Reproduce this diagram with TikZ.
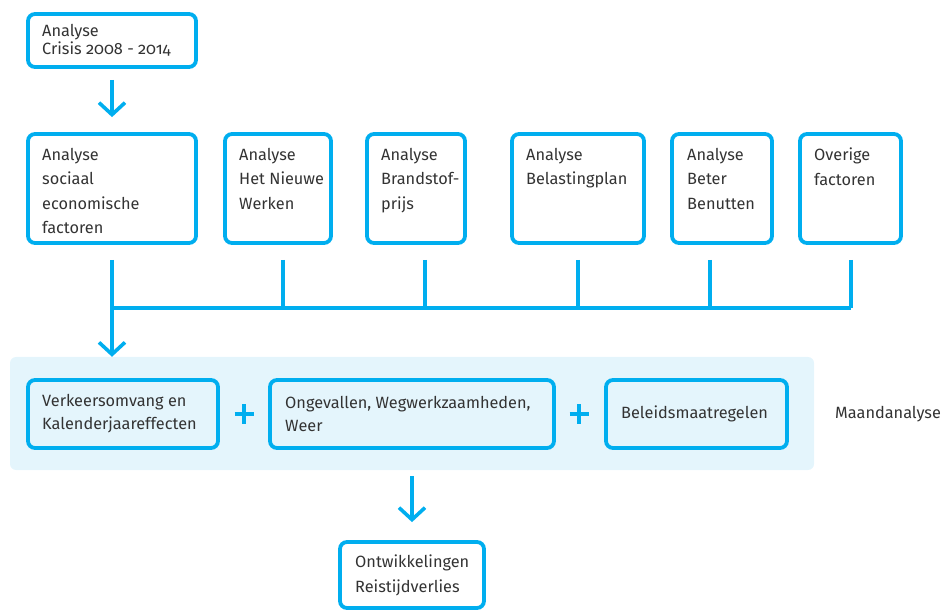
\documentclass[tikz,border=0pt]{standalone}
\usepackage{fontspec}
\setmainfont{Fira Sans}[Numbers=OldStyle]
\usetikzlibrary{arrows.meta}
\definecolor{cy}{HTML}{00AEEF}
\definecolor{bandc}{HTML}{E4F5FC}
\definecolor{txtc}{HTML}{333333}
\begin{document}
\begin{tikzpicture}[x=1pt,y=-1pt,
  box/.style={draw=cy, line width=3.8pt, rounded corners=7pt, fill=white, inner sep=0pt},
  cbox/.style={box, fill=bandc},
  lbl/.style={font=\fontsize{16.3}{24.5}\selectfont, text=txtc, align=left, inner sep=0pt},
  conn/.style={draw=cy, line width=3.6pt},
  arr/.style={conn, -{Straight Barb[length=12pt, width=26pt, line join=miter]}},
  bandst/.style={fill=bandc, rounded corners=6pt, inner sep=0pt}
]
\useasboundingbox (0,0) rectangle (943,612);
% band
\node[bandst, minimum width=804pt, minimum height=113pt] (band) at (412,413.5) {};
% top box
\node[box, minimum width=168pt, minimum height=53pt] (top) at (112,40.5) {};
\node[lbl, font=\fontsize{16.3}{18}\selectfont, anchor=west] (toptxt) at (42,40.5) {Analyse\\Crisis 2008 - 2014};
% row of analysis boxes
\node[box, minimum width=168pt, minimum height=109pt] (b1) at (112,188.5) {};
\node[box, minimum width=106pt, minimum height=109pt] (b2) at (278,188.5) {};
\node[box, minimum width=98pt,  minimum height=109pt] (b3) at (416,188.5) {};
\node[box, minimum width=132pt, minimum height=109pt] (b4) at (578,188.5) {};
\node[box, minimum width=100pt, minimum height=109pt] (b5) at (722,188.5) {};
\node[box, minimum width=101pt, minimum height=109pt] (b6) at (850.5,188.5) {};
\node[lbl, anchor=north west] (t1) at (42,148) {Analyse\\sociaal\\economische\\factoren};
\node[lbl, anchor=north west] (t2) at (239,148) {Analyse\\Het Nieuwe\\Werken};
\node[lbl, anchor=north west] (t3) at (381,148) {Analyse\\Brandstof-\\prijs};
\node[lbl, anchor=north west] (t4) at (526,148) {Analyse\\Belastingplan};
\node[lbl, anchor=north west] (t5) at (687,148) {Analyse\\Beter\\Benutten};
\node[lbl, anchor=north west] (t6) at (814,148) {Overige\\factoren};
% components
\node[cbox, minimum width=190pt, minimum height=68pt] (c1) at (123,414) {};
\node[cbox, minimum width=284pt, minimum height=68pt] (c2) at (412,414) {};
\node[cbox, minimum width=181pt, minimum height=68pt] (c3) at (696.5,414) {};
\node[lbl, font=\fontsize{16.3}{23}\selectfont, anchor=west] (u1) at (42,414) {Verkeersomvang en\\Kalenderjaareffecten};
\node[lbl, font=\fontsize{16.3}{23}\selectfont, anchor=west] (u2) at (285,414) {Ongevallen, Wegwerkzaamheden,\\Weer};
\node[lbl, anchor=west] (u3) at (621,414) {Beleidsmaatregelen};
\node[lbl, anchor=west] (maand) at (835,414) {Maandanalyse};
% plus signs
\coordinate (p1) at (244,414);
\coordinate (p2) at (579,414);
\foreach \p in {p1,p2}{
  \draw[cy, line width=4.5pt] ([xshift=-9.5pt]\p) -- ([xshift=9.5pt]\p);
  \draw[cy, line width=4.5pt] ([yshift=-9.5pt]\p) -- ([yshift=9.5pt]\p);
}
% bottom box
\node[box, minimum width=144pt, minimum height=66pt] (bot) at (412,575) {};
\node[lbl, font=\fontsize{16.3}{25}\selectfont, anchor=west] (bt) at (355,575.5) {Ontwikkelingen\\Reistijdverlies};
% arrows
\draw[arr] ([yshift=-11pt]top.south) -- ([yshift=15pt]b1.north);
\coordinate (j1) at (112,308);
\coordinate (j6) at (851,308);
\draw[conn] (j1) -- (j6);
\draw[conn] (283,260) -- (283,308);
\draw[conn] (425,260) -- (425,308);
\draw[conn] (578,260) -- (578,308);
\draw[conn] (710,260) -- (710,308);
\draw[conn] (851,260) -- (j6);
\draw[arr] ([yshift=-15pt]b1.south) -- (b1.south |- band.north);
\draw[arr] ([yshift=-6pt]band.south) -- ([yshift=18pt]bot.north);
\end{tikzpicture}
\end{document}
